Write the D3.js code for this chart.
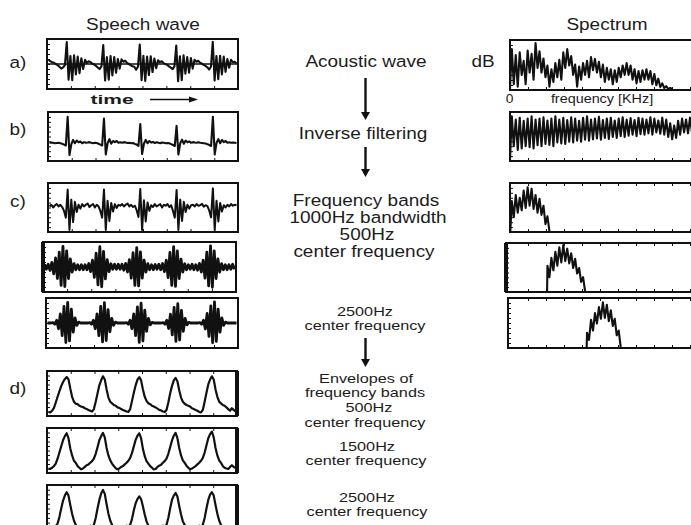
<!DOCTYPE html>
<html><head><meta charset="utf-8">
<script src="https://cdn.jsdelivr.net/npm/d3@7"></script>
<style>
body{margin:0;background:#fff;}
svg{display:block;font-family:"Liberation Sans",Arial,Helvetica,sans-serif;}
</style></head><body>
<script>
// ---- Time-domain signals (normalised amplitude, one value per sample) ----
const waveAcoustic = [
  0.18, 0.12, 0.08, 0.05, 0.0, -0.05, -0.12, -0.2, -0.15, -0.05,
  0.95, -0.68, 0.35, -0.7, 0.38, -0.45, 0.32, -0.4, 0.25, -0.22, 0.18, 0.05, 0.12, 0.08, 0.02, -0.02, -0.08, -0.15, -0.22, -0.1,
  0.82, -0.72, 0.3, -0.68, 0.35, -0.5, 0.3, -0.38, 0.22, -0.2, 0.2, 0.1, 0.14, 0.05, 0.0, -0.05, -0.1, -0.12, -0.25, -0.12,
  0.85, -0.7, 0.36, -0.74, 0.32, -0.48, 0.34, -0.35, 0.24, -0.18, 0.16, 0.08, 0.12, 0.04, 0.0, -0.04, -0.1, -0.16, -0.22, -0.1,
  0.8, -0.75, 0.34, -0.7, 0.38, -0.42, 0.3, -0.38, 0.26, -0.2, 0.18, 0.1, 0.14, 0.06, 0.02, -0.04, -0.08, -0.14, -0.24, -0.12,
  0.97, -0.72, 0.35, -0.66, 0.36, -0.45, 0.32, -0.34, 0.22, -0.16, 0.18, 0.08, 0.1, 0.02
];
const waveInverse = [
  -0.28, -0.27, -0.28, -0.3, -0.29, -0.28, -0.3, -0.32, -0.36, -0.4,
  0.88, -0.82, -0.35, -0.15, -0.3, -0.18, -0.26, -0.22, -0.3, -0.25, -0.28, -0.27, -0.25, -0.28, -0.3, -0.28, -0.29, -0.32, -0.36, -0.4,
  0.8, -0.8, -0.3, -0.12, -0.32, -0.2, -0.25, -0.2, -0.28, -0.26, -0.28, -0.25, -0.27, -0.29, -0.28, -0.3, -0.29, -0.33, -0.36, -0.42,
  0.55, -0.78, -0.32, -0.15, -0.3, -0.2, -0.27, -0.24, -0.29, -0.26, -0.28, -0.3, -0.27, -0.28, -0.3, -0.29, -0.3, -0.34, -0.38, -0.42,
  0.47, -0.8, -0.3, -0.14, -0.32, -0.18, -0.26, -0.22, -0.28, -0.25, -0.27, -0.28, -0.26, -0.28, -0.29, -0.3, -0.31, -0.34, -0.38, -0.42,
  0.88, -0.8, -0.28, -0.12, -0.3, -0.15, -0.25, -0.2, -0.28, -0.26, -0.28, -0.27, -0.28, -0.29
];
const waveBands = [
  0.05, 0.12, 0.0, 0.1, 0.15, 0.05, 0.12, 0.02, -0.15, -0.45,
  0.8, -1.0, 0.35, -0.65, 0.25, -0.2, 0.12, -0.05, 0.15, 0.05, 0.12, 0.18, 0.02, 0.1, 0.15, 0.0, 0.12, 0.05, -0.15, -0.45,
  0.8, -1.0, 0.3, -0.6, 0.2, -0.18, 0.15, -0.02, 0.12, 0.08, 0.15, 0.05, 0.12, 0.18, 0.05, 0.12, 0.02, 0.08, -0.12, -0.42,
  0.82, -1.0, 0.32, -0.62, 0.22, -0.15, 0.1, 0.02, 0.15, 0.05, 0.1, 0.15, 0.0, 0.12, 0.08, 0.15, 0.02, 0.1, -0.15, -0.45,
  0.78, -1.0, 0.35, -0.6, 0.25, -0.2, 0.12, -0.05, 0.1, 0.12, 0.05, 0.15, 0.08, 0.1, 0.16, 0.04, 0.1, 0.06, -0.14, -0.44,
  0.85, -1.0, 0.3, -0.62, 0.2, -0.18, 0.1, 0.0, 0.12, 0.05, 0.15, 0.08, 0.12, 0.1
];
const wave500 = [
  0.12, -0.1, 0.12, -0.15, 0.2, -0.3, 0.4, -0.5, 0.65, -0.8,
  0.9, -0.85, 0.7, -0.5, 0.35, -0.22, 0.15, -0.12, 0.1, -0.12, 0.1, -0.12, 0.1, -0.12, 0.15, -0.2, 0.3, -0.45, 0.6, -0.78,
  0.88, -0.86, 0.68, -0.52, 0.32, -0.2, 0.14, -0.1, 0.12, -0.1, 0.12, -0.1, 0.12, -0.14, 0.16, -0.22, 0.32, -0.48, 0.62, -0.8,
  0.84, -0.82, 0.66, -0.48, 0.3, -0.22, 0.15, -0.12, 0.1, -0.12, 0.11, -0.1, 0.12, -0.12, 0.15, -0.2, 0.3, -0.46, 0.64, -0.8,
  0.88, -0.84, 0.7, -0.5, 0.34, -0.22, 0.14, -0.12, 0.1, -0.1, 0.12, -0.12, 0.1, -0.14, 0.16, -0.22, 0.3, -0.48, 0.65, -0.82,
  0.92, -0.88, 0.7, -0.5, 0.35, -0.22, 0.15, -0.12, 0.1, -0.12, 0.1, -0.1, 0.12, -0.1
];
const wave2500 = [
  0.0, 0.0, 0.0, 0.02, -0.05, 0.12, -0.25, 0.4, -0.55, 0.72,
  -0.85, 0.9, -0.78, 0.6, -0.4, 0.22, -0.1, 0.04, 0.0, 0.0, 0.0, 0.0, 0.0, 0.02, -0.05, 0.12, -0.25, 0.4, -0.55, 0.72,
  -0.82, 0.88, -0.76, 0.58, -0.38, 0.2, -0.1, 0.04, 0.0, 0.0, 0.0, 0.0, 0.0, 0.02, -0.05, 0.12, -0.25, 0.4, -0.55, 0.7,
  -0.84, 0.86, -0.78, 0.56, -0.36, 0.2, -0.08, 0.03, 0.0, 0.0, 0.0, 0.0, 0.0, 0.02, -0.05, 0.12, -0.24, 0.38, -0.52, 0.68,
  -0.8, 0.84, -0.74, 0.55, -0.36, 0.2, -0.08, 0.03, 0.0, 0.0, 0.0, 0.0, 0.0, 0.02, -0.05, 0.12, -0.26, 0.42, -0.58, 0.74,
  -0.86, 0.92, -0.8, 0.6, -0.4, 0.22, -0.1, 0.04, 0.0, 0.0, 0.0, 0.0, 0.0, 0.0
];
// Band envelopes (0 = floor, 1 = full scale)
const env500 = [
  0.05, 0.04, 0.08, 0.15, 0.28, 0.42, 0.55, 0.68, 0.78, 0.85,
  0.9, 0.85, 0.62, 0.42, 0.3, 0.25, 0.24, 0.2, 0.18, 0.17, 0.14, 0.12, 0.1, 0.08, 0.06, 0.12, 0.3, 0.5, 0.7, 0.82,
  0.92, 0.84, 0.6, 0.4, 0.3, 0.26, 0.22, 0.2, 0.16, 0.15, 0.12, 0.1, 0.08, 0.06, 0.05, 0.12, 0.32, 0.52, 0.7, 0.84,
  0.9, 0.82, 0.6, 0.42, 0.32, 0.26, 0.24, 0.2, 0.18, 0.16, 0.13, 0.1, 0.09, 0.06, 0.05, 0.1, 0.28, 0.5, 0.68, 0.82,
  0.88, 0.8, 0.58, 0.4, 0.3, 0.25, 0.22, 0.2, 0.18, 0.14, 0.12, 0.1, 0.08, 0.05, 0.04, 0.1, 0.3, 0.52, 0.72, 0.84,
  0.92, 0.84, 0.6, 0.42, 0.3, 0.26, 0.22, 0.2, 0.16, 0.12, 0.08, 0.14, 0.1, 0.06
];
const env1500 = [
  0.06, 0.05, 0.08, 0.12, 0.18, 0.3, 0.45, 0.6, 0.75, 0.85,
  0.92, 0.8, 0.55, 0.38, 0.25, 0.2, 0.12, 0.08, 0.04, 0.06, 0.1, 0.14, 0.16, 0.2, 0.24, 0.3, 0.42, 0.58, 0.75, 0.85,
  0.93, 0.82, 0.56, 0.38, 0.26, 0.18, 0.12, 0.07, 0.04, 0.06, 0.1, 0.12, 0.16, 0.2, 0.25, 0.32, 0.44, 0.6, 0.76, 0.86,
  0.92, 0.8, 0.54, 0.36, 0.24, 0.18, 0.12, 0.08, 0.04, 0.05, 0.1, 0.13, 0.15, 0.2, 0.24, 0.3, 0.42, 0.58, 0.74, 0.86,
  0.93, 0.8, 0.56, 0.38, 0.26, 0.2, 0.13, 0.08, 0.04, 0.06, 0.09, 0.12, 0.16, 0.2, 0.25, 0.32, 0.45, 0.62, 0.8, 0.9,
  0.96, 0.82, 0.56, 0.38, 0.26, 0.2, 0.12, 0.08, 0.06, 0.05, 0.1, 0.14, 0.1, 0.08
];
const env2500 = [
  0.1, 0.08, 0.06, 0.05, 0.08, 0.15, 0.3, 0.5, 0.68, 0.8,
  0.88, 0.8, 0.58, 0.38, 0.22, 0.12, 0.06, 0.03, 0.02, 0.04, 0.06, 0.05, 0.08, 0.1, 0.08, 0.12, 0.28, 0.5, 0.7, 0.85,
  0.93, 0.84, 0.6, 0.38, 0.22, 0.12, 0.06, 0.03, 0.02, 0.04, 0.06, 0.05, 0.08, 0.1, 0.08, 0.12, 0.26, 0.46, 0.62, 0.72,
  0.78, 0.72, 0.55, 0.36, 0.2, 0.1, 0.05, 0.03, 0.02, 0.04, 0.06, 0.05, 0.08, 0.1, 0.08, 0.12, 0.28, 0.5, 0.7, 0.8,
  0.86, 0.78, 0.56, 0.36, 0.2, 0.12, 0.06, 0.03, 0.02, 0.04, 0.06, 0.05, 0.08, 0.1, 0.08, 0.12, 0.28, 0.5, 0.7, 0.82,
  0.88, 0.8, 0.58, 0.38, 0.22, 0.12, 0.06, 0.03, 0.02, 0.04, 0.06, 0.05, 0.08, 0.1
];

// ---- Spectra: harmonic peak / trough levels (normalised dB) ----
const HARM_OFFSET = 0.05;   // kHz, first harmonic
const HARM_STEP = 0.11;     // kHz, harmonic spacing
const specAcousticPeaks = [0.85, 0.72, 0.78, 0.6, 0.82, 0.75, 0.98, 0.8, 0.65, 0.5, 0.42, 0.55, 0.62, 0.78, 0.85, 0.7, 0.52, 0.48, 0.55, 0.6, 0.68, 0.64, 0.58, 0.52, 0.45, 0.42, 0.4, 0.45, 0.5, 0.55, 0.5, 0.42, 0.38, 0.4, 0.42, 0.38, 0.32, 0.22, 0.12, 0.06, 0.02];
const specAcousticTroughs = [0.1, 0.05, 0.3, 0.1, 0.35, 0.2, 0.45, 0.35, 0.25, 0.05, 0.15, 0.25, 0.2, 0.45, 0.5, 0.3, 0.05, 0.2, 0.3, 0.25, 0.4, 0.35, 0.25, 0.15, 0.2, 0.1, 0.15, 0.25, 0.3, 0.3, 0.2, 0.12, 0.15, 0.2, 0.2, 0.1, 0.08, 0.04, 0.02, 0.0, 0.0];
const specInversePeaks = [0.95, 0.88, 0.92, 0.85, 0.9, 0.95, 0.88, 0.9, 0.93, 0.86, 0.9, 0.95, 0.88, 0.92, 0.87, 0.93, 0.9, 0.85, 0.92, 0.95, 0.88, 0.9, 0.94, 0.87, 0.9, 0.92, 0.86, 0.9, 0.93, 0.88, 0.91, 0.87, 0.92, 0.9, 0.88, 0.93, 0.9, 0.86, 0.92, 0.88, 0.8, 0.75, 0.85, 0.9, 0.88, 0.92];
const specInverseTroughs = [0.3, 0.22, 0.25, 0.3, 0.28, 0.25, 0.32, 0.3, 0.35, 0.33, 0.3, 0.38, 0.36, 0.35, 0.4, 0.38, 0.42, 0.4, 0.44, 0.42, 0.45, 0.47, 0.44, 0.48, 0.46, 0.5, 0.48, 0.52, 0.5, 0.53, 0.55, 0.52, 0.56, 0.55, 0.58, 0.55, 0.6, 0.57, 0.55, 0.5, 0.45, 0.48, 0.55, 0.6, 0.58, 0.6];
const spec500Peaks = [0.65, 0.78, 0.72, 0.88, 0.95, 0.92, 0.78, 0.7, 0.55, 0.32];
const spec500Troughs = [0.3, 0.4, 0.45, 0.5, 0.55, 0.48, 0.4, 0.35, 0.15, 0.0];
const spec1500Peaks = [0.55, 0.72, 0.85, 0.95, 1.0, 0.92, 0.82, 0.7, 0.5, 0.3];
const spec1500Troughs = [0.3, 0.45, 0.55, 0.62, 0.65, 0.6, 0.5, 0.38, 0.2, 0.0];
const spec2500Peaks = [0.3, 0.58, 0.72, 0.85, 0.95, 0.9, 0.78, 0.6, 0.35];
const spec2500Troughs = [0.15, 0.35, 0.5, 0.6, 0.62, 0.55, 0.45, 0.25, 0.0];

// ---- Text ----
const rowLabels = ["a)", "b)", "c)", "d)"];
const columnTitles = ["Speech wave", "Spectrum"];
const stepTexts = [
  ["Acoustic wave"],
  ["Inverse filtering"],
  ["Frequency bands", "1000Hz bandwidth", "500Hz", "center frequency"],
  ["2500Hz", "center frequency"],
  ["Envelopes of", "frequency bands", "500Hz", "center frequency"],
  ["1500Hz", "center frequency"],
  ["2500Hz", "center frequency"]
];
const freqAxisLabels = ["0", "frequency [KHz]"];
const levelLabel = "dB";
const timeLabel = "time";

const W = 691, H = 525, INK = "#111", TEXT = "#1c1c1c", STRETCH = 1.15;
const svg = d3.select("body").append("svg").attr("width", W).attr("height", H);

function label(txt, x, y, size, opts = {}) {
  svg.append("text")
    .attr("transform", `translate(${x},${y}) scale(${opts.sx || STRETCH},1)`)
    .attr("text-anchor", opts.anchor || "middle")
    .attr("font-size", size)
    .attr("font-weight", opts.weight || "normal")
    .attr("fill", TEXT)
    .text(txt);
}

function frame(box, thick) {
  const [x0, y0, x1, y1] = box;
  const g = svg.append("g");
  g.append("rect").attr("x", x0).attr("y", y0).attr("width", x1 - x0).attr("height", y1 - y0)
    .attr("fill", "none").attr("stroke", INK).attr("stroke-width", 2);
  if (thick === "left") g.append("line").attr("x1", x0).attr("x2", x0).attr("y1", y0).attr("y2", y1).attr("stroke", INK).attr("stroke-width", 4);
  if (thick === "right") g.append("line").attr("x1", x1).attr("x2", x1).attr("y1", y0).attr("y2", y1).attr("stroke", INK).attr("stroke-width", 4);
}

function innerTicks(box, xTickScale, xTicks, yTickScale, yTicks, top) {
  const [x0, y0, x1, y1] = box;
  const g = svg.append("g");
  const bottomAxis = g.append("g").attr("transform", `translate(0,${y1})`)
    .call(d3.axisBottom(xTickScale).tickValues(xTicks).tickSize(-3).tickFormat(""));
  const leftAxis = g.append("g").attr("transform", `translate(${x0},0)`)
    .call(d3.axisLeft(yTickScale).tickValues(yTicks).tickSize(-3).tickFormat(""));
  const axes = [bottomAxis, leftAxis];
  if (top) axes.push(g.append("g").attr("transform", `translate(0,${y0})`)
    .call(d3.axisTop(xTickScale).tickValues(xTicks).tickSize(-3).tickFormat("")));
  axes.forEach(a => { a.select(".domain").remove(); a.selectAll("line").attr("stroke", INK).attr("stroke-width", 1); });
}

// ---- Speech-wave column ----
const wavePanels = [
  { values: waveAcoustic, box: [47, 39, 238, 89], domain: [-1, 1], zero: true, sw: 2.1 },
  { values: waveInverse, box: [48, 112, 238, 161], domain: [-1, 1], sw: 2.1 },
  { values: waveBands, box: [48, 183, 238, 232], domain: [-1, 1], sw: 2.0 },
  { values: wave500, box: [43, 242, 236, 292], domain: [-1, 1], thick: "left", sw: 2.8 },
  { values: wave2500, box: [46, 298, 238, 348], domain: [-1, 1], sw: 2.8 },
  { values: env500, box: [47, 371, 237, 416], domain: [0, 1], thick: "right", top: true, sw: 2.2 },
  { values: env1500, box: [47, 428, 237, 473], domain: [0, 1], thick: "right", top: true, sw: 2.2 },
  { values: env2500, box: [47, 485, 237, 532], domain: [0, 1], thick: "right", top: true, sw: 2.2 }
];

wavePanels.forEach(p => {
  const [x0, y0, x1, y1] = p.box;
  const x = d3.scaleLinear().domain([0, p.values.length - 1]).range([x0 + 1.5, x1 - 1.5]);
  const y = d3.scaleLinear().domain(p.domain).range([y1 - 2, y0 + 2]);
  const tickX = d3.scaleLinear().domain([0, 8]).range([x0, x1]);
  const tickY = d3.scaleLinear().domain([0, 10]).range([y1, y0]);
  innerTicks(p.box, tickX, d3.range(1, 8), tickY, d3.range(1, 10), p.top);
  if (p.zero) svg.append("line").attr("x1", x0).attr("x2", x1).attr("y1", y(0)).attr("y2", y(0))
    .attr("stroke", INK).attr("stroke-width", 1.4);
  svg.append("path").datum(p.values)
    .attr("d", d3.line().x((d, i) => x(i)).y(d => y(d)))
    .attr("fill", "none").attr("stroke", INK).attr("stroke-width", p.sw).attr("stroke-linejoin", "round");
  frame(p.box, p.thick);
});

// ---- Spectrum column ----
const fx = d3.scaleLinear().domain([0, 5]).range([510, 690]);
const specPanels = [
  { peaks: specAcousticPeaks, troughs: specAcousticTroughs, first: 0, start: 0.0, box: [510, 40, 702, 90] },
  { peaks: specInversePeaks, troughs: specInverseTroughs, first: 0, start: 0.0, box: [510, 112, 702, 161] },
  { peaks: spec500Peaks, troughs: spec500Troughs, first: 0, start: 0.01, box: [510, 183, 702, 232], top: true },
  { peaks: spec1500Peaks, troughs: spec1500Troughs, first: 9, start: 1.03, box: [506, 243, 702, 292], thick: "left", top: true },
  { peaks: spec2500Peaks, troughs: spec2500Troughs, first: 19, start: 2.13, box: [508, 298, 702, 348], top: true }
];

specPanels.forEach(p => {
  const [x0, y0, x1, y1] = p.box;
  const y = d3.scaleLinear().domain([0, 1]).range([y1 - 1, y0 + 2]);
  const pts = [[p.start, 0]];
  p.peaks.forEach((v, i) => {
    const f = HARM_OFFSET + HARM_STEP * (p.first + i);
    pts.push([f, v]);
    pts.push([f + HARM_STEP / 2, p.troughs[i]]);
  });
  const tickY = d3.scaleLinear().domain([0, 10]).range([y1, y0]);
  innerTicks(p.box, fx, d3.range(0.5, 5.01, 0.5), tickY, d3.range(1, 10), p.top);
  svg.append("path").datum(pts)
    .attr("d", d3.line().x(d => fx(d[0])).y(d => y(d[1])))
    .attr("fill", "none").attr("stroke", INK).attr("stroke-width", 2.1).attr("stroke-linejoin", "round");
  frame(p.box, p.thick);
});

// ---- Titles and row labels ----
label(columnTitles[0], 143, 30, 16.5);
label(columnTitles[1], 607, 30, 16.5);
[68, 135, 207, 394].forEach((yy, i) => label(rowLabels[i], 18, yy, 16.5));
label(levelLabel, 483, 67, 16.5);
label(freqAxisLabels[0], 509.5, 103, 12);
label(freqAxisLabels[1], 602, 103, 12.5);

// time axis caption with arrow
label(timeLabel, 112, 104, 12, { weight: "bold", sx: 1.75 });
svg.append("line").attr("x1", 150).attr("x2", 190).attr("y1", 99.5).attr("y2", 99.5).attr("stroke", INK).attr("stroke-width", 1.5);
svg.append("path").attr("d", "M189,96.5L198,99.5L189,102.5Z").attr("fill", INK);

// ---- Processing steps (centre column) ----
const SMALL = 12.5, SMALL_SX = 1.3;
const stepLayout = [
  { x: 366, ys: [67], size: 16.5 },
  { x: 363, ys: [139], size: 16.5 },
  { x: 366, ys: [206, 223, 240, 257], size: 16.5, xs: [366, 368, 367, 364] },
  { x: 365, ys: [316, 330], size: SMALL, sx: SMALL_SX },
  { x: 366, ys: [383, 397, 412, 427], size: SMALL, sx: SMALL_SX, xs: [366, 365, 369, 365] },
  { x: 366, ys: [451, 465], size: SMALL, sx: SMALL_SX, xs: [367, 366] },
  { x: 367, ys: [502, 516], size: SMALL, sx: SMALL_SX }
];
stepTexts.forEach((lines, i) => {
  const L = stepLayout[i];
  lines.forEach((t, j) => label(t, L.xs ? L.xs[j] : L.x, L.ys[j], L.size, { sx: L.sx }));
});

function downArrow(x, yTop, yBot) {
  svg.append("line").attr("x1", x).attr("x2", x).attr("y1", yTop).attr("y2", yBot - 6)
    .attr("stroke", INK).attr("stroke-width", 2.4);
  svg.append("path").attr("d", `M${x - 4.5},${yBot - 8}L${x + 4.5},${yBot - 8}L${x},${yBot}Z`).attr("fill", INK);
}
downArrow(365.5, 78, 120);
downArrow(365.5, 147, 177);
downArrow(365.5, 338, 367);
</script></body></html>
